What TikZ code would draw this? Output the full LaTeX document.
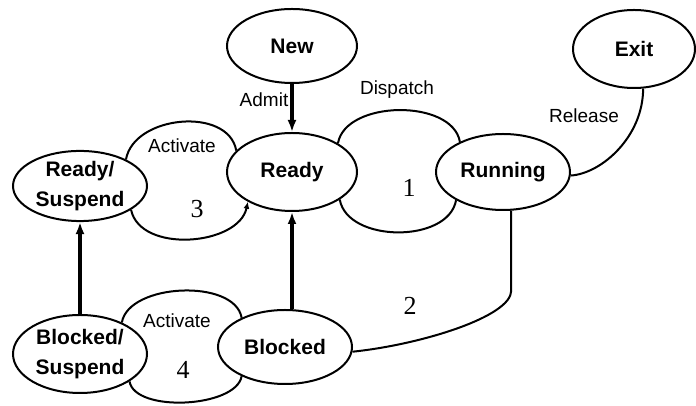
\documentclass[tikz,border=0pt]{standalone}
\usepackage{fontspec}
\setmainfont{Liberation Serif}
\setsansfont{Liberation Sans}
\usetikzlibrary{shapes.geometric,arrows.meta}

\begin{document}
\begin{tikzpicture}[x=1pt,y=1pt,>={Latex[length=12pt,width=9pt]},line width=2pt]
\tikzset{
  state/.style={draw,ellipse,inner sep=0pt,align=center,font=\sffamily\bfseries\fontsize{21}{30}\selectfont},
  lbl/.style={inner sep=0pt,font=\sffamily\fontsize{19}{21}\selectfont},
  num/.style={inner sep=0pt,font=\fontsize{26}{26}\selectfont},
  bigarrow/.style={->,line width=3.5pt}
}
\useasboundingbox (0,0) rectangle (696,406);
\node[state,minimum width=130pt,minimum height=74pt] (new) at (292,360) {New};
\node[state,minimum width=122pt,minimum height=78pt] (exit) at (634,357) {Exit};
\node[state,minimum width=130pt,minimum height=78pt] (ready) at (292,234) {Ready};
\node[state,minimum width=134pt,minimum height=76pt] (running) at (503,234) {Running};
\node[state,minimum width=134pt,minimum height=70pt] (rsusp) at (80,220) {Ready/\\Suspend};
\node[state,minimum width=134pt,minimum height=78pt] (bsusp) at (80,52) {Blocked/\\Suspend};
\node[state,minimum width=134pt,minimum height=74pt] (blocked) at (285,59) {Blocked};

% labels
\node[lbl] (admit) at (264,306) {Admit};
\node[lbl] (dispatch) at (397,316) {Dispatch};
\node[lbl] (release) at (584,290) {Release};
\node[lbl] (act3) at (182,260) {Activate};
\node[lbl] (act4) at (177,85) {Activate};
\node[num] (n1) at (409,218) {1};
\node[num] (n2) at (410,100) {2};
\node[num] (n3) at (197,197) {3};
\node[num] (n4) at (183,36) {4};

% loops between states
\draw (rsusp.30) .. controls +(80:45) and +(100:45) .. (ready.159);
\draw[-{Latex[length=7pt,width=6pt]}] (rsusp.-25) .. controls +(-78:45) and +(258:45) .. (ready.214);
\draw (ready.32) .. controls +(80:44) and +(100:44) .. (running.145);
\draw (ready.-30) .. controls +(-80:44) and +(260:44) .. (running.211);
\draw (bsusp.37) .. controls +(80:40) and +(100:40) .. (blocked.146);
\draw (bsusp.-29) .. controls +(-80:32) and +(260:32) .. (blocked.214);
\draw (running.-78) -- ++(0,-80) .. controls +(0,-26) and +(68,7) .. (blocked.-4);
\draw (running.-3) .. controls +(31,2) and +(0,-48) .. (exit.283);

% vertical moves
\draw[bigarrow] (new) -- (ready);
\draw[bigarrow] (ready.south |- blocked.north) -- (ready.south);
\draw[bigarrow] (bsusp) -- (rsusp);
\end{tikzpicture}
\end{document}
